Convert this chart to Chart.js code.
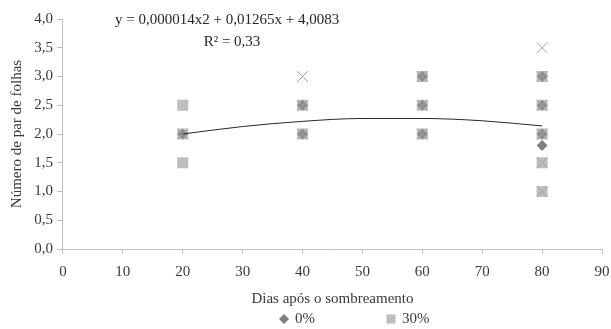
<!DOCTYPE html>
<html><head><meta charset="utf-8">
<script src="https://cdn.jsdelivr.net/npm/chart.js@4/dist/chart.umd.min.js"></script>
<style>html,body{margin:0;padding:0;background:#fff}#wrap{width:611px;height:329px}</style>
</head><body><div id="wrap"><canvas id="c" width="611" height="329"></canvas></div>
<script>
// Data
const xTickValues = [0,10,20,30,40,50,60,70,80,90];
const s0x  = [20, 40, 40, 60, 60, 60, 80, 80, 80, 80];
const s0y  = [2.0, 2.5, 2.0, 3.0, 2.5, 2.0, 3.0, 2.5, 2.0, 1.8];
const s30x = [20, 20, 20, 40, 40, 60, 60, 60, 80, 80, 80, 80, 80];
const s30y = [2.5, 2.0, 1.5, 2.5, 2.0, 3.0, 2.5, 2.0, 3.0, 2.5, 2.0, 1.5, 1.0];
const sXx  = [20, 40, 40, 40, 60, 60, 60, 80, 80, 80, 80, 80, 80];
const sXy  = [2.0, 3.0, 2.5, 2.0, 3.0, 2.5, 2.0, 3.5, 3.0, 2.5, 2.0, 1.5, 1.0];
const trendX = [20, 30, 40, 50, 60, 70, 80];
const trendY = [2.0, 2.13, 2.22, 2.27, 2.27, 2.23, 2.14];
const equationText = "y = 0,000014x2 + 0,01265x + 4,0083";
const r2Text = "R² = 0,33";
const legendLabels = ['0%', '30%'];

const pts = (xs, ys) => xs.map((x, i) => ({x, y: ys[i]}));
const FONT = "'Liberation Serif', 'Times New Roman', serif";
const TXT = '#3a3a3a';

const extrasPlugin = {
  id: 'extras',
  afterDraw(chart) {
    const ctx = chart.ctx;
    ctx.save();
    ctx.fillStyle = '#262626';
    ctx.font = '15px ' + FONT;
    ctx.textBaseline = 'middle';
    ctx.textAlign = 'left';
    ctx.fillText(equationText, 115, 20);
    ctx.textAlign = 'center';
    ctx.fillText(r2Text, 232, 42);
    // legend
    const ly = 319;
    const ds = chart.data.datasets;
    const items = [{x: 284, d: ds[0], text: legendLabels[0]}, {x: 391, d: ds[1], text: legendLabels[1]}];
    items.forEach(it => {
      ctx.fillStyle = it.d.backgroundColor;
      ctx.strokeStyle = it.d.backgroundColor;
      Chart.helpers.drawPoint(ctx, {pointStyle: it.d.pointStyle, radius: it.d.pointStyle === 'rect' ? 6.5 : 5, borderWidth: 0, rotation: 0}, it.x, ly);
      ctx.fillStyle = TXT;
      ctx.textAlign = 'left';
      ctx.fillText(it.text, it.x + 11, ly);
    });
    ctx.restore();
  }
};

new Chart(document.getElementById('c'), {
  type: 'scatter',
  data: {
    datasets: [
      { label: '0%', data: pts(s0x, s0y), pointStyle: 'rectRot', pointRadius: 5.5, pointHoverRadius: 5.5,
        backgroundColor: '#7f7f7f', borderColor: '#7f7f7f', borderWidth: 0, order: 4 },
      { label: '30%', data: pts(s30x, s30y), pointStyle: 'rect', pointRadius: 7.8, pointHoverRadius: 7.8,
        backgroundColor: 'rgba(150,150,150,0.62)', borderColor: 'rgba(150,150,150,0)', borderWidth: 0, order: 3 },
      { label: 'x', data: pts(sXx, sXy), pointStyle: 'crossRot', pointRadius: 7.5, pointHoverRadius: 7.5,
        backgroundColor: '#a0a0a0', borderColor: '#a0a0a0', borderWidth: 1, order: 2 },
      { label: 'trend', type: 'line', data: pts(trendX, trendY), showLine: true, pointRadius: 0,
        borderColor: '#262626', borderWidth: 1, tension: 0.4, cubicInterpolationMode: 'monotone', fill: false, order: 1 }
    ]
  },
  options: {
    responsive: false,
    animation: false,
    devicePixelRatio: 1,
    layout: { padding: { left: 8.2, right: 0, top: 19, bottom: 21 } },
    plugins: {
      tooltip: { enabled: false },
      legend: { display: false }
    },
    scales: {
      x: {
        type: 'linear', min: 0, max: 90,
        afterBuildTicks: (s) => { s.ticks = xTickValues.map(v => ({value: v})); },
        afterFit: (s) => { s.paddingRight = 9; },
        ticks: { color: TXT, font: { family: FONT, size: 15 }, padding: 9, autoSkip: false, maxRotation: 0 },
        grid: { drawOnChartArea: false, tickLength: 5, color: '#bfbfbf' },
        border: { color: '#bfbfbf' },
        title: { display: true, text: 'Dias após o sombreamento', color: TXT, font: { family: FONT, size: 15 }, padding: { top: 0, bottom: 0 } }
      },
      y: {
        type: 'linear', min: 0, max: 4,
        ticks: { stepSize: 0.5, autoSkip: false, color: TXT, font: { family: FONT, size: 15 }, padding: 4,
          callback: (v) => Number(v).toFixed(1).replace('.', ',') },
        grid: { drawOnChartArea: false, tickLength: 6, color: '#bfbfbf' },
        border: { color: '#bfbfbf' },
        title: { display: true, text: 'Número de par de folhas', color: TXT, font: { family: FONT, size: 15 }, padding: { top: 0, bottom: 4 } }
      }
    }
  },
  plugins: [extrasPlugin]
});
</script></body></html>
